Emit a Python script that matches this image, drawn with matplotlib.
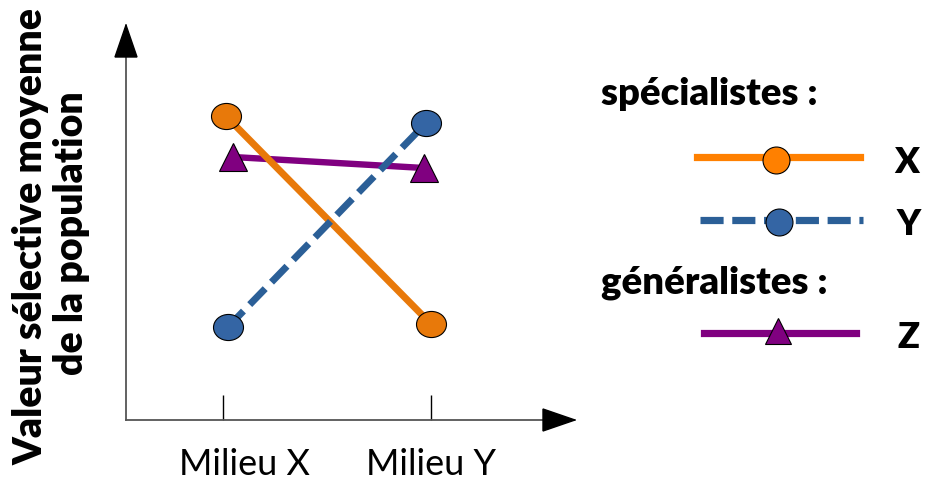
import numpy as np
import matplotlib
matplotlib.use('Agg')
from matplotlib import pyplot as plt
from matplotlib.path import Path
from matplotlib.patches import Polygon
from matplotlib.transforms import ScaledTranslation

plt.rcParams['font.family'] = ['Lato', 'DejaVu Sans']

# data
milieux = ['Milieu X', 'Milieu Y']
specialiste_x = [3.04, 0.96]
specialiste_y = [0.93, 2.97]
generaliste_z = [2.63, 2.52]

W, H = 933, 483
POIDS = 'heavy'


def px_box(x0, y0, x1, y1):
    return [x0 / W, 1 - y1 / H, (x1 - x0) / W, (y1 - y0) / H]


fig = plt.figure(figsize=(W / 100, H / 100), dpi=100)
ax = fig.add_axes(px_box(126, 25, 575, 420))

# ellipse marker (slightly wider than tall)
circ = Path.unit_circle()
ellipse = Path(circ.vertices * np.array([1.0, 0.87]), circ.codes)

pos = np.arange(len(milieux))
orange = '#e8790a'
bleu = '#2b5f97'
violet = '#800080'

ax.plot(pos + np.array([0.048, -0.034]), generaliste_z, color=violet, lw=4.6,
        marker='^', ms=20, mfc=violet, mec='black', mew=0.8, zorder=3)
ax.plot(pos + np.array([0.014, 0.0]), specialiste_x, color=orange, lw=5,
        marker=ellipse, ms=21.6, mfc=orange, mec='black', mew=0.8, zorder=4)
ax.plot(pos + np.array([0.024, -0.024]), specialiste_y, color=bleu, lw=5,
        linestyle=(0, (3.2, 1.3)), marker=ellipse, ms=21.6, mfc='#3465a4',
        mec='black', mew=0.8, zorder=5)

ax.set_xlim(-0.466, 1.692)
ax.set_ylim(0, 3.95)
ax.set_xticks(pos)
ax.set_xticklabels(milieux, fontsize=26)
ax.set_yticks([])
ax.tick_params(axis='x', direction='in', length=18, width=1, pad=20, colors='black')
# first label sits a bit right of its tick in the original
lab0 = ax.get_xticklabels()[0]
lab0.set_transform(lab0.get_transform() + ScaledTranslation(0.22, 0, fig.dpi_scale_trans))
for s in ['top', 'right']:
    ax.spines[s].set_visible(False)
for s in ['left', 'bottom']:
    ax.spines[s].set_color('#555555')
    ax.spines[s].set_linewidth(1.3)

# arrow heads
aw = 11 / 449
ah = 11 / 395
ax.add_patch(Polygon([[0, 1], [-aw, 1 - 32 / 395], [aw, 1 - 32 / 395]], closed=True,
                     color='black', transform=ax.transAxes, clip_on=False, zorder=6))
ax.add_patch(Polygon([[1, 0], [1 - 32 / 449, -ah], [1 - 32 / 449, ah]], closed=True,
                     color='black', transform=ax.transAxes, clip_on=False, zorder=6))

# y label, two lines
fig.text(43 / W, 1 - 236.5 / H, 'Valeur sélective moyenne', rotation=90,
         rotation_mode='anchor', ha='center', va='baseline', fontsize=28.3, fontweight=POIDS)
fig.text(83 / W, 1 - 233.5 / H, 'de la population', rotation=90,
         rotation_mode='anchor', ha='center', va='baseline', fontsize=28.3, fontweight=POIDS)

# legend drawn by hand
lg = fig.add_axes([0, 0, 1, 1])
lg.set_xlim(0, W)
lg.set_ylim(H, 0)
lg.axis('off')
lg.patch.set_alpha(0)

lg.text(601, 105, 'spécialistes :', fontsize=27.5, fontweight=POIDS, va='baseline')
lg.text(601, 293, 'généralistes :', fontsize=27.5, fontweight=POIDS, va='baseline')

lg.plot([697, 860], [157, 157], color='#ff8000', lw=5.2)
lg.plot([776], [160], marker='o', ms=19.4, mfc='#ff8000', mec='black', mew=0.8)
lg.text(894, 173, 'X', fontsize=26, fontweight=POIDS, va='baseline')

lg.plot([700, 863], [220, 220], color=bleu, lw=5.2, linestyle=(0, (3.2, 1.2)))
lg.plot([779], [222], marker='o', ms=19.4, mfc='#3465a4', mec='black', mew=0.8)
lg.text(897, 235, 'Y', fontsize=26, fontweight=POIDS, va='baseline')

lg.plot([704, 856], [333, 333], color=violet, lw=5.2)
lg.plot([778], [331], marker='^', ms=19.4, mfc=violet, mec='black', mew=0.8)
lg.text(897, 348, 'Z', fontsize=26, fontweight=POIDS, va='baseline')

fig.savefig('out.png', dpi=100)
